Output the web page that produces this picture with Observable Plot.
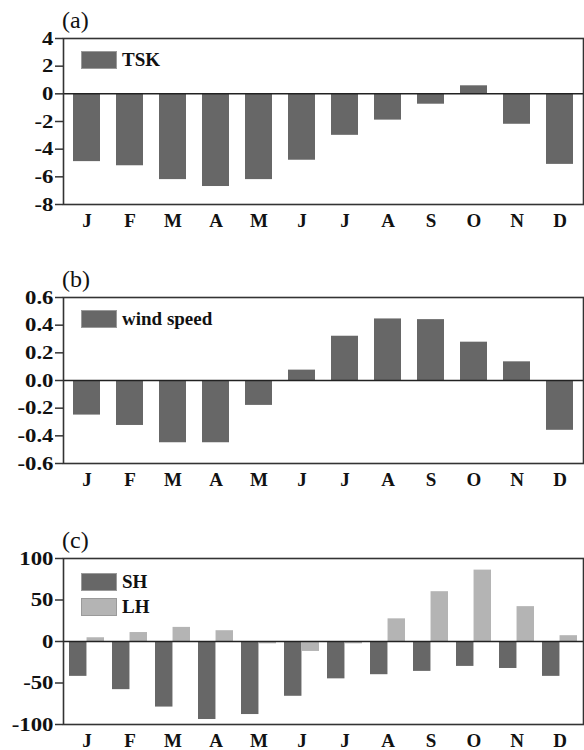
<!DOCTYPE html>
<html>
<head>
<meta charset="utf-8">
<script src="https://cdn.jsdelivr.net/npm/d3@7"></script>
<script src="https://cdn.jsdelivr.net/npm/@observablehq/plot@0.6"></script>
<style>
  html, body { margin: 0; padding: 0; background: white; }
  #root { position: relative; width: 584px; height: 750px; overflow: hidden; font-family: "Liberation Serif", "Times New Roman", serif; }
  .panel { position: absolute; left: 0; width: 584px; height: 230px; }
  .plabel { position: absolute; left: 62px; top: 8px; font-size: 24px; line-height: 1; color: #111; }
  .sw { position: absolute; width: 36px; height: 18px; box-sizing: border-box; border: 1px solid #9a9a9a; }
  .lt { position: absolute; font-size: 19px; font-weight: bold; line-height: 18px; color: #111; }
</style>
</head>
<body>
<div id="root"></div>
<script>
// ---- data ----
const monthKeys = ["Jan","Feb","Mar","Apr","May","Jun","Jul","Aug","Sep","Oct","Nov","Dec"];
const monthLabels = ["J","F","M","A","M","J","J","A","S","O","N","D"];
const tsk  = [-4.9, -5.2, -6.2, -6.7, -6.2, -4.8, -3.0, -1.9, -0.75, 0.58, -2.2, -5.1];
const wind = [-0.25, -0.325, -0.45, -0.45, -0.18, 0.075, 0.32, 0.445, 0.44, 0.277, 0.135, -0.36];
const sh   = [-42, -58, -79, -94, -88, -66, -45, -40, -36, -30, -32.5, -42];
const lh   = [4.5, 10.8, 17, 13, -2.8, -12, -2.8, 27.3, 60, 86, 42, 7];
const ticksA = [-8, -6, -4, -2, 0, 2, 4];
const ticksB = [-0.6, -0.4, -0.2, 0.0, 0.2, 0.4, 0.6];
const ticksC = [-100, -50, 0, 50, 100];

const DARK = "#676767", LIGHT = "#b4b4b4";
const labelOf = new Map(monthKeys.map((k, i) => [k, monthLabels[i]]));

function basePlot({marks, yTicks, yFmt, pad}) {
  const svg = Plot.plot({
    width: 584, height: 230,
    marginTop: 38, marginBottom: 26, marginLeft: 63, marginRight: 1,
    style: {fontFamily: "'Liberation Serif', 'Times New Roman', serif", fontWeight: "bold", color: "#111", background: "white", overflow: "visible"},
    x: {domain: monthKeys, paddingInner: pad, paddingOuter: pad / 2, align: 0.5},
    y: {domain: [yTicks[0], yTicks[yTicks.length - 1]]},
    marks: [
      ...marks,
      Plot.ruleY([0], {stroke: "#222", strokeWidth: 1.5}),
      Plot.frame({stroke: "#333", strokeWidth: 1.6}),
      Plot.axisY({ticks: yTicks, tickFormat: yFmt, tickSize: 8, tickPadding: 2, fontSize: 19, stroke: "#333", strokeWidth: 1.5, label: null}),
      Plot.axisX({tickFormat: d => labelOf.get(d), tickSize: 0, tickPadding: 9, fontSize: 19, label: null})
    ]
  });
  // widen y tick labels horizontally (reference glyphs are stretched), anchored at their right end
  svg.querySelectorAll('g[aria-label="y-axis tick label"] text').forEach(t => {
    const tr = t.getAttribute("transform") || "";
    t.setAttribute("transform", tr + " scale(1.2,1)");
  });
  return svg;
}

const root = document.getElementById("root");
function addPanel(top, label, svg, legend) {
  const p = document.createElement("div");
  p.className = "panel";
  p.style.top = top + "px";
  p.appendChild(svg);
  const l = document.createElement("div");
  l.className = "plabel";
  l.textContent = label;
  p.appendChild(l);
  legend.forEach(([name, color, ly]) => {
    const s = document.createElement("div");
    s.className = "sw";
    s.style.left = "81px"; s.style.top = ly + "px"; s.style.background = color;
    p.appendChild(s);
    const t = document.createElement("div");
    t.className = "lt";
    t.style.left = "122px"; t.style.top = ly + "px";
    t.textContent = name;
    p.appendChild(t);
  });
  root.appendChild(p);
}

// (a)
const dataA = monthKeys.map((m, i) => ({month: m, value: tsk[i]}));
addPanel(0, "(a)", basePlot({
  yTicks: ticksA, yFmt: d => String(d), pad: 0.38,
  marks: [Plot.barY(dataA, {x: "month", y: "value", fill: DARK})]
}), [["TSK", DARK, 51]]);

// (b)
const dataB = monthKeys.map((m, i) => ({month: m, value: wind[i]}));
addPanel(259, "(b)", basePlot({
  yTicks: ticksB, yFmt: d => d.toFixed(1), pad: 0.38,
  marks: [Plot.barY(dataB, {x: "month", y: "value", fill: DARK})]
}), [["wind speed", DARK, 51]]);

// (c)
const dataSH = monthKeys.map((m, i) => ({month: m, value: sh[i]}));
const dataLH = monthKeys.map((m, i) => ({month: m, value: lh[i]}));
const padC = 0.19;
const halfBand = (584 - 63 - 1) / 12 * (1 - padC) / 2;
addPanel(520, "(c)", basePlot({
  yTicks: ticksC, yFmt: d => String(d), pad: padC,
  marks: [
    Plot.barY(dataSH, {x: "month", y: "value", fill: DARK, insetRight: halfBand}),
    Plot.barY(dataLH, {x: "month", y: "value", fill: LIGHT, insetLeft: halfBand})
  ]
}), [["SH", DARK, 53], ["LH", LIGHT, 78]]);
</script>
</body>
</html>
